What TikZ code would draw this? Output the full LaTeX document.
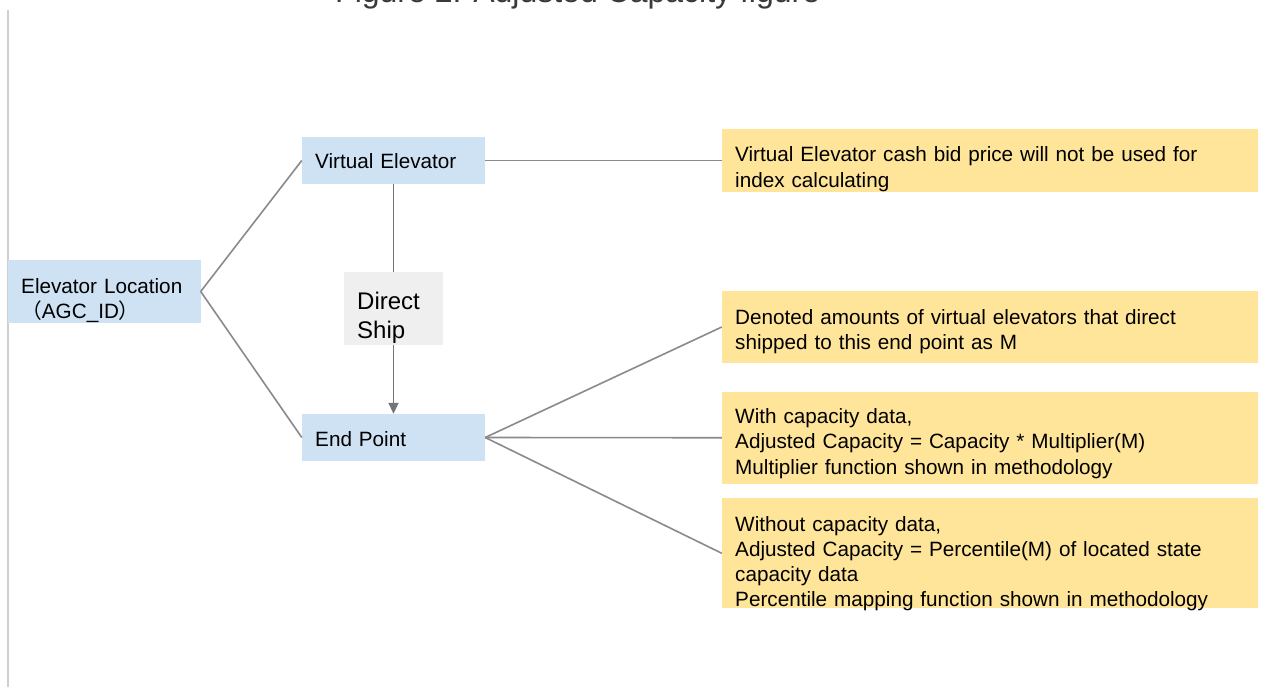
\documentclass[tikz,border=0pt]{standalone}
\usepackage{fontspec}
\setmainfont{Liberation Sans}
\newfontfamily\cjk{Noto Sans CJK SC}
\usetikzlibrary{arrows.meta}
\definecolor{boxblue}{HTML}{CFE2F3}
\definecolor{boxyellow}{HTML}{FFE599}
\definecolor{boxgray}{HTML}{EFEFEF}
\definecolor{linegray}{HTML}{8A8A8A}
\definecolor{arrowgray}{HTML}{757575}
\definecolor{titlegray}{HTML}{3A3A3A}
\definecolor{framegray}{HTML}{CFCFCF}
\begin{document}
\begin{tikzpicture}[x=1pt,y=-1pt,
  bluebox/.style={fill=boxblue,draw=none,inner sep=0pt},
  yellowbox/.style={fill=boxyellow,draw=none,inner sep=0pt,minimum width=536pt},
  graybox/.style={fill=boxgray,draw=none,inner sep=0pt},
  txt/.style={anchor=base west,inner sep=0pt,text width=520pt,align=left,
    font=\fontsize{20.7}{25.3}\selectfont,text=black},
  bigtxt/.style={anchor=base west,inner sep=0pt,text width=90pt,align=left,
    font=\fontsize{24}{29}\selectfont,text=black},
  conn/.style={draw=linegray,line width=1.6pt},
  arr/.style={draw=arrowgray,line width=1.6pt,-{Triangle[length=11pt,width=10pt]}}]
\useasboundingbox (0,0) rectangle (1266,687);
\clip (0,0) rectangle (1266,687);
\fill[white] (0,0) rectangle (1266,687);
% title (cut off at top, as in the reference)
\node[anchor=base west,inner sep=0pt,font=\fontsize{32}{36}\selectfont,text=titlegray] (title) at (335,3) {Figure 2: Adjusted Capacity figure};
% frame line
\coordinate (ftop) at (8,10);
\coordinate (fbot) at (8,687);
\draw[draw=framegray,line width=1.5pt] (ftop) -- (fbot);
% blue boxes
\node[bluebox,minimum width=192.5pt,minimum height=63pt] (loc) at (104.25,291.5) {};
\node[bluebox,minimum width=183pt,minimum height=47pt] (ve) at (393.5,160.5) {};
\node[bluebox,minimum width=183pt,minimum height=47pt] (ep) at (393.5,437.5) {};
% yellow boxes
\node[yellowbox,minimum height=63pt] (y1) at (990,160.5) {};
\node[yellowbox,minimum height=72pt] (y2) at (990,327) {};
\node[yellowbox,minimum height=92.5pt] (y3) at (990,437.75) {};
\node[yellowbox,minimum height=110pt] (y4) at (990,553.3) {};
% connectors
\draw[conn] (loc.east) -- (ve.west);
\draw[conn] (loc.east) -- (ep.west);
\draw[conn] (ve.east) -- (y1.west);
\draw[conn] (ep.east) -- (y2.west);
\draw[conn] (ep.east) -- (y3.west);
\draw[conn] (ep.east) -- (y4.west);
\draw[arr] (ve.south) -- (ep.north);
% direct ship box over the arrow
\node[graybox,minimum width=99pt,minimum height=73pt] (ds) at (393.5,308.5) {};
% texts
\node[txt] (tloc) at (21,293) {Elevator Location\\{\cjk （}AGC\_ID{\cjk ）}};
\node[txt] (tve) at (315,169) {Virtual Elevator};
\node[txt] (tep) at (315,446) {End Point};
\node[bigtxt] (tds) at (357,309) {Direct\\Ship};
\node[txt] (ty1) at (735,162) {Virtual Elevator cash bid price will not be used for\\index calculating};
\node[txt] (ty2) at (735,324) {Denoted amounts of virtual elevators that direct\\shipped to this end point as M};
\node[txt] (ty3) at (735,423.5) {With capacity data,\\Adjusted Capacity = Capacity * Multiplier(M)\\Multiplier function shown in methodology};
\node[txt] (ty4) at (735,531) {Without capacity data,\\Adjusted Capacity = Percentile(M) of located state\\capacity data\\Percentile mapping function shown in methodology};
\end{tikzpicture}
\end{document}
